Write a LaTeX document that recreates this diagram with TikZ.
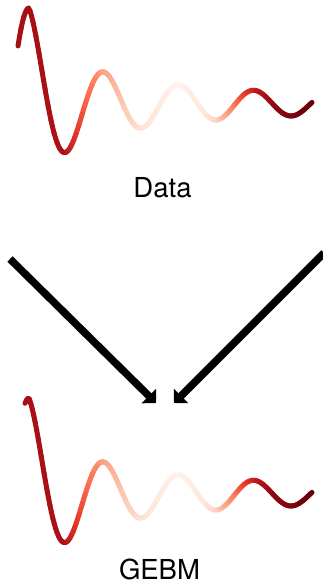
\documentclass[tikz,border=0pt]{standalone}
\usepackage{fontspec}
\setmainfont{TeX Gyre Heros}
\usetikzlibrary{arrows.meta}
\definecolor{ka}{HTML}{A50F15}
\definecolor{kb}{HTML}{AD1117}
\definecolor{kc}{HTML}{E0332A}
\definecolor{kd}{HTML}{FB6A4A}
\definecolor{ke}{HTML}{FCA285}
\definecolor{kf}{HTML}{FDCAB5}
\definecolor{kg}{HTML}{FEE4D8}
\definecolor{kh}{HTML}{FFF2EC}
\definecolor{ki}{HTML}{FEE8DE}
\definecolor{kj}{HTML}{FDD4C2}
\definecolor{kk}{HTML}{FC8E6E}
\definecolor{kl}{HTML}{EB3E2E}
\definecolor{km}{HTML}{C3161C}
\definecolor{kn}{HTML}{8F0812}
\definecolor{ko}{HTML}{6A000D}
\tikzset{
  declare function={wy(\x)=104-96*cos(4.8*(\x-29))/(max(\x-29,0)/37.5+1);},
  wave/.style={line width=5pt, line cap=round},
  bigarrow/.style={line width=7.5pt, -{Triangle[length=10pt,width=20pt]}},
  label/.style={font=\fontsize{27.5}{33}\selectfont, anchor=base, inner sep=0pt}
}
\def\drawwave#1{%
  \foreach \xa/\ca/\xb/\cb in {#1/ka/66/kb, 66/kb/76/kc, 76/kc/88/kd, 88/kd/105/ke,
      105/ke/125/kf, 125/kf/145/kg, 145/kg/180/kh, 180/kh/205/ki, 205/ki/218/kj,
      218/kj/232/kk, 232/kk/245/kl, 245/kl/258/km, 258/km/275/kn, 275/kn/312/ko} {
    \pgfmathtruncatemacro\nn{ceil((\xb-\xa)/1.5)}
    \foreach \j in {1,...,\nn} {
      \pgfmathsetmacro\xs{\xa+(\j-1)*(\xb-\xa)/\nn}
      \pgfmathsetmacro\xe{\xa+\j*(\xb-\xa)/\nn}
      \pgfmathsetmacro\pc{100-100*(\j-0.5)/\nn}
      \draw[wave, color=\ca!\pc!\cb] (\xs,{wy(\xs)}) -- (\xe,{wy(\xe)});
    }
  }%
}
\begin{document}
\begin{tikzpicture}[x=1pt, y=-1pt]
  \useasboundingbox (0,0) rectangle (323,583);
  \begin{scope}
    \drawwave{18}
  \end{scope}
  \begin{scope}[shift={(0,390)}]
    \drawwave{25}
  \end{scope}
  \node[label] (data) at (162.5,197) {Data};
  \node[label] (gebm) at (159.5,579) {GEBM};
  \coordinate (ls) at (10,259);
  \coordinate (lt) at (156,403);
  \coordinate (rs) at (324,253);
  \coordinate (rt) at (174,403);
  \draw[bigarrow] (ls) -- (lt);
  \draw[bigarrow] (rs) -- (rt);
\end{tikzpicture}
\end{document}
